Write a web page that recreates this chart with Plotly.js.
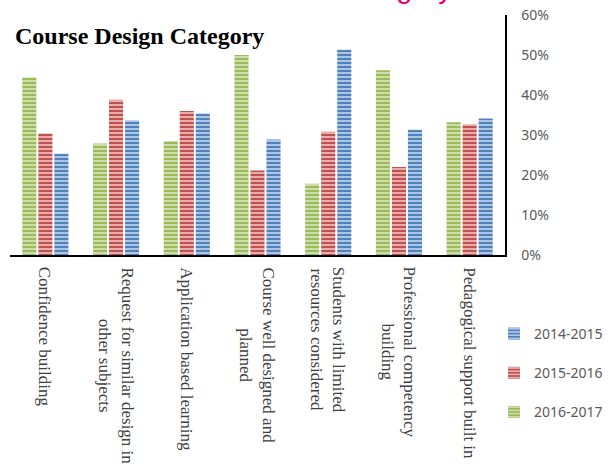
<!DOCTYPE html>
<html>
<head>
<meta charset="utf-8">
<script src="https://cdn.plot.ly/plotly-3.0.1.min.js"></script>
<style>
html,body{margin:0;padding:0;background:#fff;}
#chart{width:610px;height:467px;}
</style>
</head>
<body>
<div id="chart"></div>
<script>
const categories = [
  "Confidence building",
  "Request for similar design in other subjects",
  "Application based learning",
  "Course well designed and planned",
  "Students with limited resources considered",
  "Professional competency building",
  "Pedagogical support built in"
];
const categoryLabels = [
  "Confidence building",
  "Request for similar design in<br>other subjects",
  "Application based learning",
  "Course well designed and<br>planned",
  "Students with limited<br>resources considered",
  "Professional competency<br>building",
  "Pedagogical support built in"
];
const seriesNames = ["2016-2017", "2015-2016", "2014-2015"];
const values2016_2017 = [0.444, 0.279, 0.285, 0.500, 0.178, 0.462, 0.332];
const values2015_2016 = [0.304, 0.388, 0.360, 0.211, 0.308, 0.220, 0.327];
const values2014_2015 = [0.253, 0.337, 0.354, 0.289, 0.513, 0.313, 0.341];
const yTickVals = [0, 0.1, 0.2, 0.3, 0.4, 0.5, 0.6];

const palette = [
  {main: "#9bbb59", light: "#d3e2b3"},
  {main: "#c0504d", light: "#ecb9b8"},
  {main: "#4f81bd", light: "#b9cde6"}
];
const allValues = [values2016_2017, values2015_2016, values2014_2015];

const traces = allValues.map((vals, i) => ({
  type: "bar",
  name: seriesNames[i],
  x: categories,
  y: vals,
  legendgroup: "g" + i,
  legendrank: 3 - i,
  marker: {
    color: palette[i].main,
    line: {width: 0},
    pattern: {shape: "-", size: 4, solidity: 0.45, fgcolor: palette[i].light, bgcolor: palette[i].main, fillmode: "replace"}
  },
  hoverinfo: "skip"
}));

const annotations = categories.map((c, i) => ({
  xref: "x", yref: "paper",
  x: c, y: 0, yshift: -10,
  text: categoryLabels[i],
  textangle: 90,
  xanchor: "center", yanchor: "top",
  align: "center",
  showarrow: false,
  font: {family: "Liberation Serif, serif", size: 17, color: "#404040"}
}));
annotations.push({
  xref: "paper", yref: "paper",
  x: (333 - 10) / 495, y: (255 - 6) / 240,
  xanchor: "left", yanchor: "bottom",
  text: "Category",
  showarrow: false,
  font: {family: "Liberation Sans, sans-serif", size: 29, color: "#e6007e"}
});

const layout = {
  width: 610, height: 467,
  margin: {l: 10, r: 105, t: 15, b: 212, pad: 0, autoexpand: false},
  paper_bgcolor: "#ffffff", plot_bgcolor: "#ffffff",
  title: {
    text: "<b>Course Design Category</b>",
    font: {family: "Liberation Serif, serif", size: 24, color: "#000000"},
    xref: "container", yref: "container",
    x: 15 / 610, xanchor: "left",
    y: 1 - 36 / 467, yanchor: "middle"
  },
  barmode: "group",
  bargap: 0.32,
  bargroupgap: 0.12,
  showlegend: true,
  legend: {
    xref: "container", yref: "container",
    x: 494 / 610, xanchor: "left",
    y: 1 - 318 / 467, yanchor: "top",
    traceorder: "grouped",
    tracegroupgap: 18,
    font: {family: "Noto Sans, sans-serif", size: 14, color: "#595959"},
    bgcolor: "rgba(0,0,0,0)"
  },
  xaxis: {
    type: "category",
    showticklabels: false,
    ticks: "",
    showline: true, linecolor: "#000000", linewidth: 2,
    showgrid: false, zeroline: false, fixedrange: true
  },
  yaxis: {
    side: "right",
    range: [0, 0.6],
    tickvals: yTickVals,
    tickformat: ".0%",
    ticks: "",
    ticklabelstandoff: 12,
    showline: true, linecolor: "#000000", linewidth: 1.5,
    showgrid: false, zeroline: false,
    tickfont: {family: "Noto Sans, sans-serif", size: 14, color: "#595959"},
    fixedrange: true
  },
  annotations: annotations
};

Plotly.newPlot("chart", traces, layout, {displayModeBar: false, staticPlot: true});
</script>
</body>
</html>
